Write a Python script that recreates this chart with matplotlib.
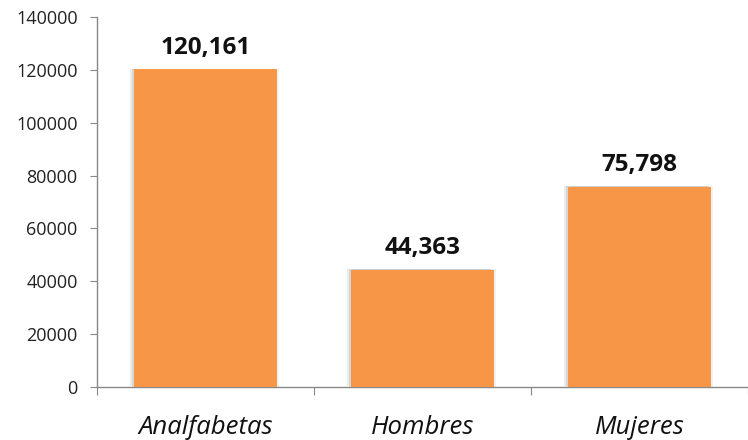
import matplotlib
matplotlib.use("Agg")
import matplotlib.pyplot as plt
import matplotlib.patheffects as pe

categories = ["Analfabetas", "Hombres", "Mujeres"]
values = [120161, 44363, 75798]
value_labels = ["120,161", "44,363", "75,798"]
yticks = [0, 20000, 40000, 60000, 80000, 100000, 120000, 140000]

plt.rcParams['font.family'] = ['Open Sans', 'DejaVu Sans']

fig = plt.figure(figsize=(7.48, 4.4), dpi=100)
ax = fig.add_axes([0.1297, 0.1205, 0.8703, 0.841])

x = list(range(len(categories)))
bars = ax.bar(x, values, width=0.66, color='#F79646', zorder=3)
for b in bars:
    b.set_path_effects([
        pe.SimplePatchShadow(offset=(-2.5, 0.5), shadow_rgbFace='#999999', alpha=0.18),
        pe.SimplePatchShadow(offset=(-1.2, 0.3), shadow_rgbFace='#888888', alpha=0.22),
        pe.SimplePatchShadow(offset=(1.2, 0.3), shadow_rgbFace='#aaaaaa', alpha=0.15),
        pe.Normal()])

for xi, v, lab in zip(x, values, value_labels):
    ax.annotate(lab, (xi, v), xytext=(0, 7), textcoords='offset points',
                ha='center', va='bottom', fontsize=17.5, fontweight='bold', color='#111111')

ax.set_xlim(-0.49, 2.41)
ax.set_ylim(0, 140000)
ax.set_yticks(yticks)
ax.set_yticklabels([str(t) for t in yticks], fontsize=13, color='#222222')

ax.set_xticks([-0.5, 0.5, 1.5, 2.5])
ax.set_xticklabels([])
ax.set_xticks(x, minor=True)
ax.set_xticklabels(categories, minor=True, fontsize=18.5, style='italic', color='#111111')
ax.tick_params(axis='x', which='minor', length=0, pad=20)
ax.tick_params(axis='x', which='major', length=6, direction='out', color='#888888')
ax.tick_params(axis='y', length=5, color='#888888', pad=9)

for s in ['top', 'right']:
    ax.spines[s].set_visible(False)
for s in ['left', 'bottom']:
    ax.spines[s].set_color('#888888')
    ax.spines[s].set_linewidth(1.0)

fig.savefig("out.png", dpi=100)
